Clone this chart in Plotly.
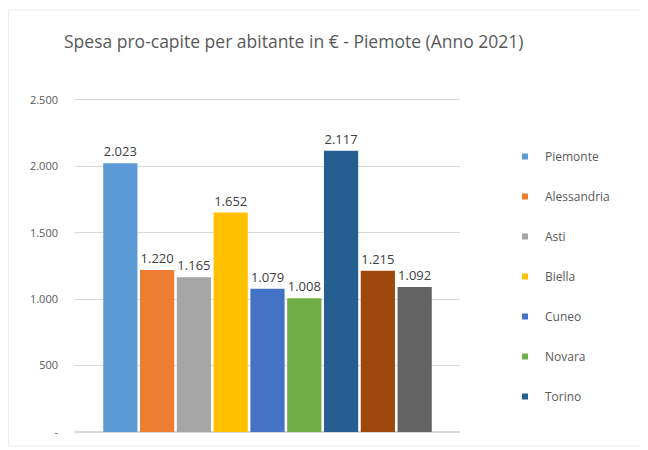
import plotly.graph_objects as go

provinces = ["Piemonte", "Alessandria", "Asti", "Biella", "Cuneo", "Novara",
             "Torino", "Verbano-Cusio-Ossola", "Vercelli"]
spesa = [2023, 1220, 1165, 1652, 1079, 1008, 2117, 1215, 1092]
colors = ["#5B9BD5", "#ED7D31", "#A5A5A5", "#FFC000", "#4472C4", "#70AD47",
          "#255E91", "#9E480E", "#636363"]
legend_visible = [True, True, True, True, True, True, True, False, False]
tick_vals = [0, 500, 1000, 1500, 2000, 2500]
tick_text = ["-", "500", "1.000", "1.500", "2.000", "2.500"]

# page has an 8px body margin: work in figure coordinates = page - 8
OFF = 8
W, H = 648 - OFF, 450 - OFF
L, R, T, B = 75 - OFF, 648 - 460, 100 - OFF - 2, 18
PW, PH = W - L - R, H - T - B


def px_x(x):
    return (x - OFF - L) / PW


def px_y(y):
    return (H - B - (y - OFF)) / PH


fig = go.Figure()
for name, val, col, show in zip(provinces, spesa, colors, legend_visible):
    fig.add_trace(go.Bar(
        x=["2021"], y=[val], name=name, marker_color=col,
        marker_line_width=0, showlegend=False,
        text=[f"{val:,}".replace(",", ".")], textposition="outside",
        textfont=dict(size=13, color="#404040", family="Open Sans"),
        cliponaxis=False,
    ))
    if show:
        fig.add_trace(go.Scatter(
            x=[None], y=[None], mode="markers", name=name, legendgroup=name,
            marker=dict(symbol="square", size=6, color=col), showlegend=True,
        ))

fig.update_layout(
    width=W, height=H,
    margin=dict(l=L, r=R, t=T, b=B, autoexpand=False),
    paper_bgcolor="white", plot_bgcolor="white",
    barmode="group", bargap=0.14, bargroupgap=0.07,
    title=dict(text="Spesa pro-capite per abitante in € - Piemote (Anno 2021)",
               x=(64 - OFF) / W, xanchor="left", y=1 - (42 - OFF) / H, yanchor="middle",
               font=dict(size=17.5, color="#595959", family="Open Sans")),
    font=dict(family="Open Sans", color="#595959"),
    legend=dict(x=px_x(505), xanchor="left", y=px_y(142), yanchor="top",
                font=dict(size=12, color="#595959"), tracegroupgap=21,
                itemwidth=30, bgcolor="rgba(0,0,0,0)"),
    xaxis=dict(showticklabels=False, showgrid=False, zeroline=False,
               showline=False, ticks=""),
    yaxis=dict(range=[0, 2515], tickvals=tick_vals, ticktext=tick_text,
               showgrid=True, gridcolor="#D9D9D9", gridwidth=1,
               zeroline=True, zerolinecolor="#D9D9D9", showline=False,
               tickfont=dict(size=11, color="#595959"), ticklabelstandoff=16),
    showlegend=True,
    shapes=[dict(type="rect", xref="paper", yref="paper",
                 x0=px_x(8.5), x1=px_x(647), y0=px_y(446), y1=px_y(10),
                 line=dict(color="#EBEBEB", width=1), layer="below")],
)

fig.write_html("out.html")
